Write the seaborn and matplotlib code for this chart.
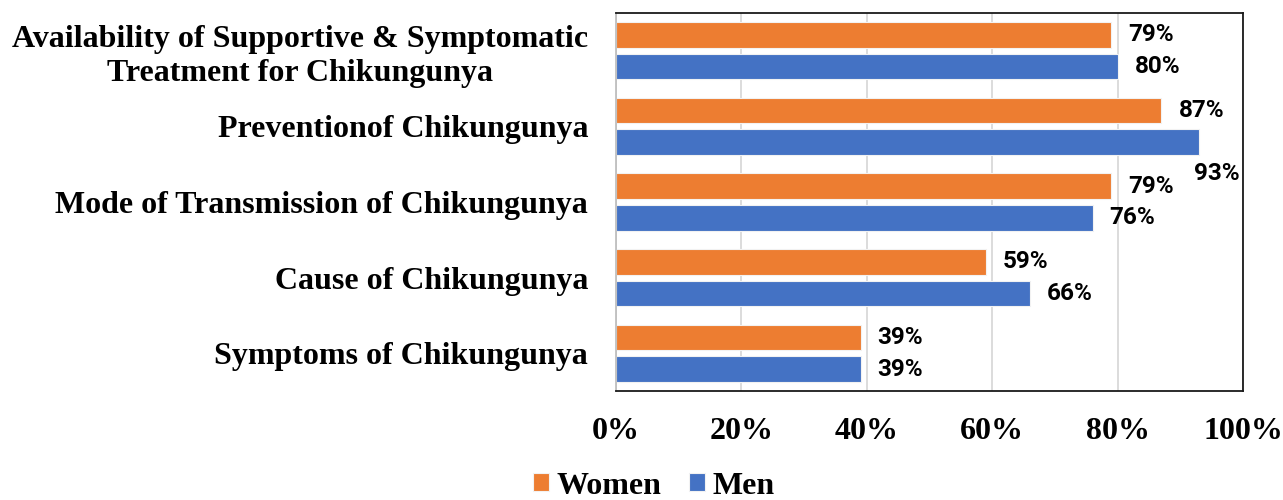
import matplotlib
matplotlib.use("Agg")
import matplotlib.pyplot as plt
import seaborn as sns
import pandas as pd

categories = [
    "Availability of Supportive & Symptomatic\nTreatment for Chikungunya",
    "Preventionof Chikungunya",
    "Mode of Transmission of Chikungunya",
    "Cause of Chikungunya",
    "Symptoms of Chikungunya",
]
women = [79, 87, 79, 59, 39]
men = [80, 93, 76, 66, 39]
series = ["Women", "Men"]
colors = ["#ED7D31", "#4472C4"]
xticks = [0, 20, 40, 60, 80, 100]
xticklabels = ["0%", "20%", "40%", "60%", "80%", "100%"]

df = pd.DataFrame({
    "category": categories * 2,
    "group": ["Women"] * len(categories) + ["Men"] * len(categories),
    "value": women + men,
})

sns.set_style("white")
plt.rcParams["font.family"] = ["Liberation Serif", "DejaVu Serif"]
plt.rcParams["text.color"] = "black"
plt.rcParams["xtick.color"] = "black"
plt.rcParams["ytick.color"] = "black"

fig = plt.figure(figsize=(12.83, 5), dpi=100)
ax = fig.add_axes([616 / 1283, 1 - 391 / 500, (1243 - 616) / 1283, (391 - 13) / 500])

sns.barplot(data=df, x="value", y="category", hue="group", hue_order=series,
            palette=colors, saturation=1, orient="h", width=0.837, gap=0.19,
            errorbar=None, edgecolor="#f2f2f2", linewidth=0.8, ax=ax)

ax.set_xlim(0, 100)
ax.set_xticks(xticks)
ax.set_xticklabels(xticklabels)
ax.set_xlabel("")
ax.set_ylabel("")
ax.grid(axis="x", color="#d9d9d9", linewidth=1.3)
ax.set_axisbelow(True)
for s in ["top", "right", "bottom"]:
    ax.spines[s].set_color("#1a1a1a")
    ax.spines[s].set_linewidth(1.3)
ax.spines["left"].set_color("#bfbfbf")
ax.spines["left"].set_linewidth(1.3)

ax.tick_params(axis="x", length=0, pad=19, labelsize=23, labelcolor="black")
ax.tick_params(axis="y", length=0, pad=20, labelsize=23, labelcolor="black")
for lab in ax.get_xticklabels() + ax.get_yticklabels():
    lab.set_fontweight("bold")
for lab in ax.get_yticklabels():
    lab.set_multialignment("center")
    lab.set_linespacing(1.2)

# value labels
for container, vals in zip(ax.containers, [women, men]):
    for i, (patch, v) in enumerate(zip(container.patches, vals)):
        x_end = patch.get_x() + patch.get_width()
        y_c = patch.get_y() + patch.get_height() / 2
        offset = (17, 0)
        if container is ax.containers[1] and i == 1:
            offset = (-5, -31)
        ax.annotate(f"{v}%", xy=(x_end, y_c), xytext=offset,
                    textcoords="offset pixels", ha="left", va="center",
                    fontsize=17.5, fontweight="bold", color="black",
                    family=["Roboto", "DejaVu Sans"], annotation_clip=False)

leg = ax.legend(loc="center", bbox_to_anchor=(654 / 1283, 14 / 500),
                bbox_transform=fig.transFigure, ncol=2, frameon=False,
                handlelength=0.5, handleheight=0.5, handletextpad=0.25,
                columnspacing=0.85, prop={"size": 23, "weight": "bold"})
for t in leg.get_texts():
    t.set_color("black")

fig.savefig("out.png", dpi=100)
